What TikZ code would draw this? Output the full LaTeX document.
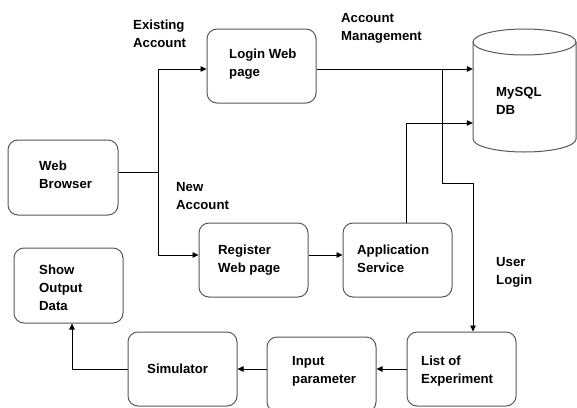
\documentclass[tikz,border=0pt]{standalone}
\usepackage{fontspec}
\setmainfont{Liberation Sans}
\usetikzlibrary{arrows.meta}
\begin{document}
\begin{tikzpicture}[x=1pt,y=-1pt,
  box/.style={draw=black!65, line width=1pt, rounded corners=10pt,
    minimum width=109pt, minimum height=74pt, inner sep=0pt},
  txt/.style={anchor=base west, inner sep=0pt, align=left,
    font=\fontsize{13.2}{18}\selectfont\bfseries},
  link/.style={draw=black, line width=0.8pt},
  arr/.style={link, -{Triangle[length=6pt,width=5.5pt]}}]
\useasboundingbox (0,0) rectangle (577,407);
\clip (0,0) rectangle (577,407);
\fill[white] (0,0) rectangle (577,407);

% process boxes
\node[box, minimum width=110pt, minimum height=75pt] (browser) at (63,177.5) {};
\node[box] (login) at (261.5,66) {};
\node[box] (register) at (253.5,260) {};
\node[box] (app) at (397.5,260) {};
\node[box] (list) at (461.5,369) {};
\node[box, minimum height=75pt] (input) at (321.5,374.5) {};
\node[box] (sim) at (182.5,369) {};
\node[box, minimum height=75pt] (show) at (68.5,285.5) {};

% database cylinder
\draw[draw=black!65, line width=1pt]
  (473,42) -- (473,139) arc[start angle=180, end angle=0, x radius=51.5, y radius=13]
  -- (576,42);
\draw[draw=black!65, line width=1pt] (524.5,42) ellipse[x radius=51.5, y radius=13];
\node[minimum width=103pt, minimum height=123pt, inner sep=0pt] (db) at (524.5,90.5) {};

% texts inside the boxes (anchored at the baseline of the last line)
\node[txt] (tbrowser) at (39,188) {Web\\Browser};
\node[txt] (tlogin) at (229,76) {Login Web\\page};
\node[txt] (tregister) at (218,272) {Register\\Web page};
\node[txt] (tapp) at (357,272) {Application\\Service};
\node[txt] (tlist) at (421,383) {List of\\Experiment};
\node[txt] (tinput) at (292,383) {Input\\parameter};
\node[txt] (tsim) at (147,373) {Simulator};
\node[txt] (tshow) at (39,310) {Show\\Output\\Data};
\node[txt] (tdb) at (496,114) {MySQL\\DB};

% connector labels
\node[txt] (lexist) at (133,47) {Existing\\Account};
\node[txt] (lnew) at (176,209) {New\\Account};
\node[txt] (lmanage) at (341,40) {Account\\Management};
\node[txt] (luser) at (496,284) {User\\Login};

% connectors
\coordinate (split) at (158,172);
\coordinate (tap) at (442,69);
\coordinate (bend) at (473,183);
\draw[link] (browser.east |- split) -- (split);
\draw[arr] (split) |- ([yshift=-3pt]login.west);
\draw[arr] (split) |- ([yshift=5pt]register.west);
\draw[arr] ([yshift=5pt]register.east) -- ([yshift=5pt]app.west);
\draw[arr] ([yshift=-3pt]login.east) -- ([yshift=21.5pt]db.west);
\draw[arr] ([xshift=8.5pt]app.north) |- ([yshift=-32.5pt]db.west);
\draw[arr] (tap) |- (bend) -- (bend |- list.north);
\draw[arr] (list.west) -- (list.west -| input.east);
\draw[arr] (list.west -| input.west) -- (sim.east);
\draw[arr] (sim.west) -| ([xshift=3.5pt]show.south);
\end{tikzpicture}
\end{document}
